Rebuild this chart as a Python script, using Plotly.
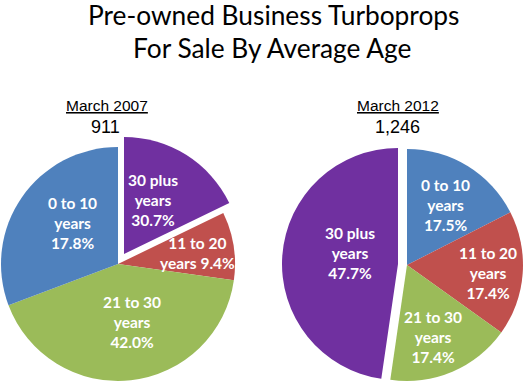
import plotly.graph_objects as go

# ---- data ----
title_lines = ["Pre-owned Business Turboprops", "For Sale By Average Age"]
panel_titles = ["March 2007", "March 2012"]
panel_totals = ["911", "1,246"]

# slices in clockwise order starting at 12 o'clock
slices_2007 = ["30 plus", "11 to 20", "21 to 30", "0 to 10"]
values_2007 = [17.8, 9.4, 42.0, 30.7]          # slice sizes as drawn
labels_2007 = ["30 plus<br>years<br>30.7%", "11 to 20<br>years 9.4%",
               "21 to 30<br>years<br>42.0%", "0 to 10<br>years<br>17.8%"]

slices_2012 = ["0 to 10", "11 to 20", "21 to 30", "30 plus"]
values_2012 = [17.5, 17.4, 17.4, 47.7]
labels_2012 = ["0 to 10<br>years<br>17.5%", "11 to 20<br>years<br>17.4%",
               "21 to 30<br>years<br>17.4%", "30 plus<br>years<br>47.7%"]

COLORS = {"0 to 10": "#4F81BD", "11 to 20": "#C0504D",
          "21 to 30": "#9BBB59", "30 plus": "#7030A0"}
CLEAR = "rgba(0,0,0,0)"

W, H = 525, 385


def dom(cx, cy, r):
    return dict(x=[(cx - r) / W, (cx + r) / W], y=[1 - (cy + r) / H, 1 - (cy - r) / H])


fig = go.Figure()


def add_pie(slices, values, pulled, center, r, offset):
    base_cols = [CLEAR if s == pulled else COLORS[s] for s in slices]
    pull_cols = [COLORS[s] if s == pulled else CLEAR for s in slices]
    common = dict(values=values, labels=slices, sort=False, direction="clockwise",
                  rotation=0, textinfo="none", hoverinfo="label+value",
                  showlegend=False)
    fig.add_trace(go.Pie(marker=dict(colors=base_cols, line=dict(width=0)),
                         domain=dom(center[0], center[1], r), **common))
    fig.add_trace(go.Pie(marker=dict(colors=pull_cols, line=dict(width=0)),
                         domain=dom(center[0] + offset[0], center[1] + offset[1], r),
                         **common))


add_pie(slices_2007, values_2007, "30 plus", (118, 264), 117, (6, -10))
add_pie(slices_2012, values_2012, "30 plus", (407, 265), 116, (-9, -1))

ann = []


def txt(x, y, s, size, color="white", bold=True, family="Lato", yanchor="middle"):
    ann.append(dict(x=x / W, y=1 - y / H, xref="paper", yref="paper", text=(f"<b>{s}</b>" if bold else s),
                    showarrow=False, xanchor="center", yanchor=yanchor,
                    font=dict(size=size, color=color, family=family)))


# slice labels
pos_2007 = [(153, 200), (197, 253), (132, 322), (72, 223)]
pos_2012 = [(445, 205), (488, 273), (433, 337), (350, 253)]
for (x, y), s in zip(pos_2007, labels_2007):
    txt(x, y, s, 15.5)
for (x, y), s in zip(pos_2012, labels_2012):
    txt(x, y, s, 15.5)

# panel headings
txt(107, 106, f"<u>{panel_titles[0]}</u>", 15.5, color="black", bold=False, family="Liberation Sans")
txt(105, 127, panel_totals[0], 18, color="black", bold=False, family="Liberation Sans")
txt(398, 106, f"<u>{panel_titles[1]}</u>", 15.5, color="black", bold=False, family="Liberation Sans")
txt(397, 127, panel_totals[1], 18, color="black", bold=False, family="Liberation Sans")

# title
txt(273, 15, title_lines[0], 26.3, color="black", bold=False)
txt(272, 48, title_lines[1], 26.3, color="black", bold=False)

fig.update_layout(width=W, height=H, margin=dict(l=0, r=0, t=0, b=0),
                  paper_bgcolor="white", plot_bgcolor="white", annotations=ann)

fig.write_html("out.html", config={"displayModeBar": False},
               post_script="document.body.style.margin='0';")
